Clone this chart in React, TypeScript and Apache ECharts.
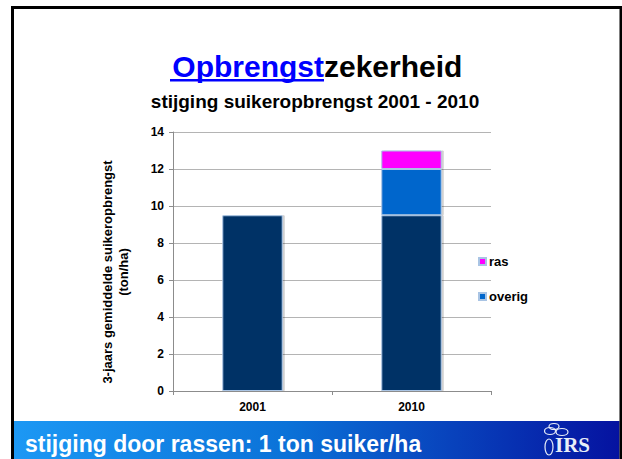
import React, { useEffect, useRef } from "react";
import * as echarts from "echarts";

const categories = ["2001", "2010"];
const baseValues = [9.5, 9.5];
const overigValues = [null, 2.5];
const rasValues = [null, 1.0];
const yTicks = { min: 0, max: 14, interval: 2 };

const FONT = "'Liberation Sans', Arial, sans-serif";

export default function App() {
  const ref = useRef<HTMLDivElement>(null);
  useEffect(() => {
    if (!ref.current) return;
    const chart = echarts.init(ref.current, null, { renderer: "svg" });
    const barStyle = (color: string) => ({
      color,
      borderColor: "#a9c4e4",
      borderWidth: 1,
      shadowColor: "rgba(0,0,0,0.18)",
      shadowOffsetX: 2,
      shadowOffsetY: 0,
      shadowBlur: 1,
    });
    const logoColor = "#e8eef8";
    chart.setOption({
      animation: false,
      backgroundColor: "#ffffff",
      textStyle: { fontFamily: FONT },
      grid: { left: 173, top: 132, right: 131, bottom: 68, containLabel: false },
      legend: {
        data: ["ras", "overig"],
        orient: "vertical",
        left: 473,
        top: 250,
        itemWidth: 7,
        itemHeight: 7,
        itemGap: 22,
        icon: "rect",
        textStyle: { fontFamily: FONT, fontWeight: "bold", fontSize: 13, color: "#000", padding: [0, 0, 0, -2] },
      },
      xAxis: {
        type: "category",
        data: categories,
        axisLine: { lineStyle: { color: "#8c8c8c", width: 1 } },
        axisTick: { show: true, length: 4, lineStyle: { color: "#8c8c8c" } },
        axisLabel: { fontFamily: FONT, fontWeight: "bold", fontSize: 12, color: "#000", margin: 10 },
      },
      yAxis: {
        type: "value",
        min: yTicks.min,
        max: yTicks.max,
        interval: yTicks.interval,
        axisLine: { show: true, lineStyle: { color: "#8c8c8c", width: 1 } },
        axisTick: { show: true, length: 4, inside: false, lineStyle: { color: "#8c8c8c" } },
        splitLine: { lineStyle: { color: "#b4b4b4", width: 1 } },
        axisLabel: { fontFamily: FONT, fontWeight: "bold", fontSize: 12, color: "#000", margin: 9 },
      },
      series: [
        {
          name: "basis",
          type: "bar",
          stack: "total",
          data: baseValues,
          barWidth: "38%",
          itemStyle: barStyle("#003366"),
        },
        {
          name: "overig",
          type: "bar",
          stack: "total",
          data: overigValues,
          barWidth: "38%",
          itemStyle: barStyle("#0066cc"),
        },
        {
          name: "ras",
          type: "bar",
          stack: "total",
          data: rasValues,
          barWidth: "38%",
          itemStyle: barStyle("#ff00ff"),
        },
      ],
      graphic: [
        {
          type: "rect",
          shape: { x: 12.5, y: 7.5, width: 608.5, height: 470 },
          style: { fill: "none", stroke: "#000", lineWidth: 3 },
          z: 100,
        },
        {
          type: "rect",
          shape: { x: 14, y: 421, width: 605.5, height: 45 },
          style: {
            fill: new echarts.graphic.LinearGradient(0, 0, 1, 0, [
              { offset: 0, color: "#1c98f4" },
              { offset: 0.45, color: "#0b72d8" },
              { offset: 1, color: "#0512a0" },
            ]),
          },
          z: 50,
        },
        {
          type: "text",
          x: 25,
          y: 444,
          style: {
            text: "stijging door rassen: 1 ton suiker/ha",
            fill: "#ffffff",
            font: `bold 23px ${FONT}`,
            verticalAlign: "middle",
          },
          z: 60,
        },
        {
          type: "text",
          x: 555,
          y: 445,
          style: {
            text: "IRS",
            fill: logoColor,
            font: `bold 21px 'Liberation Serif', 'DejaVu Serif', serif`,
            verticalAlign: "middle",
          },
          z: 60,
        },
        {
          type: "ellipse",
          shape: { cx: 550, cy: 431, rx: 5.5, ry: 3.5 },
          style: { fill: "none", stroke: logoColor, lineWidth: 1.2 },
          z: 60,
        },
        {
          type: "ellipse",
          shape: { cx: 562, cy: 432, rx: 6, ry: 3.5 },
          style: { fill: "none", stroke: logoColor, lineWidth: 1.2 },
          z: 60,
        },
        {
          type: "ellipse",
          shape: { cx: 554, cy: 426.5, rx: 5, ry: 3 },
          style: { fill: "none", stroke: logoColor, lineWidth: 1.2 },
          z: 60,
        },
        {
          type: "ellipse",
          shape: { cx: 549, cy: 447, rx: 4, ry: 8 },
          style: { fill: "none", stroke: logoColor, lineWidth: 1.2 },
          z: 60,
        },
        {
          type: "text",
          x: 324,
          y: 66,
          style: {
            text: "Opbrengst",
            fill: "#0000ff",
            font: `bold 30px ${FONT}`,
            align: "right",
            verticalAlign: "middle",
          },
        },
        {
          type: "text",
          x: 324,
          y: 66,
          style: {
            text: "zekerheid",
            fill: "#000000",
            font: `bold 30px ${FONT}`,
            align: "left",
            verticalAlign: "middle",
          },
        },
        {
          type: "rect",
          shape: { x: 170, y: 79, width: 154, height: 2.5 },
          style: { fill: "#0000ff" },
        },
        {
          type: "text",
          x: 315,
          y: 101,
          style: {
            text: "stijging suikeropbrengst 2001 - 2010",
            fill: "#000",
            font: `bold 19px ${FONT}`,
            align: "center",
            verticalAlign: "middle",
          },
        },
        {
          type: "text",
          x: 115,
          y: 272,
          rotation: Math.PI / 2,
          style: {
            text: "3-jaars gemiddelde suikeropbrengst\n(ton/ha)",
            fill: "#000",
            font: `bold 13px ${FONT}`,
            align: "center",
            verticalAlign: "middle",
            lineHeight: 16,
          },
        },
      ],
    });
    return () => chart.dispose();
  }, []);
  return (
    <div
      ref={ref}
      style={{ position: "fixed", left: 0, top: 0, width: 622, height: 459 }}
    />
  );
}
